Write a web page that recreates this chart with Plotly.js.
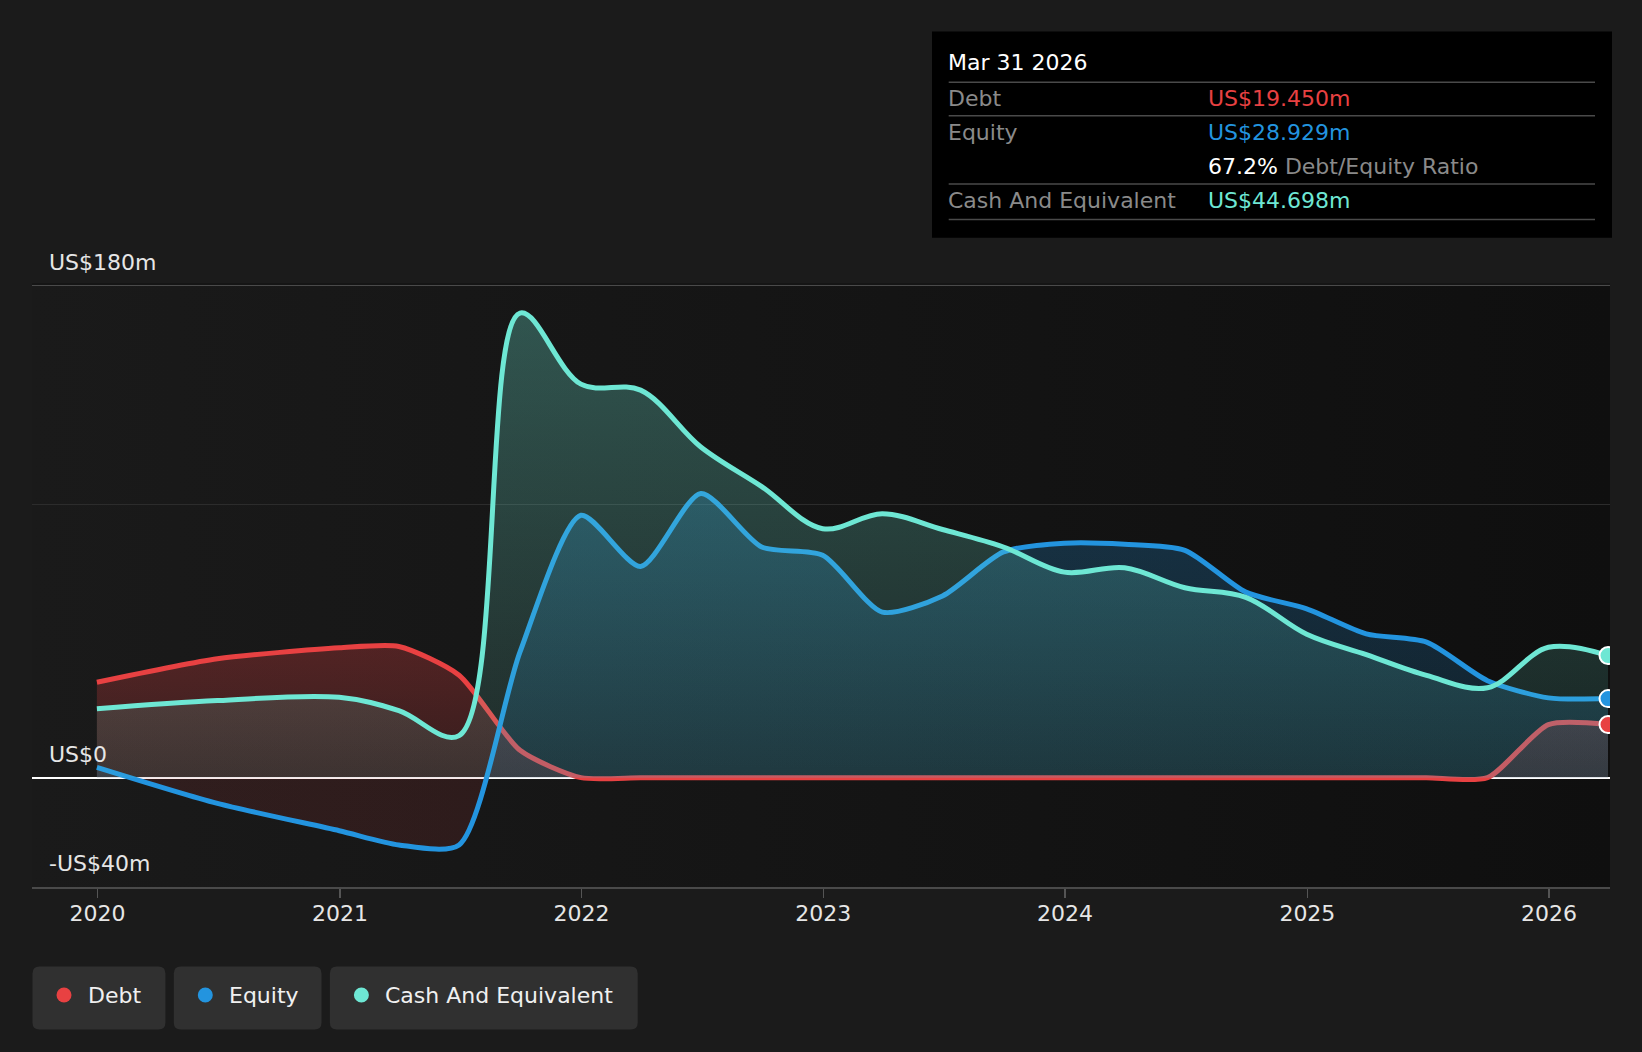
<!DOCTYPE html>
<html>
<head>
<meta charset="utf-8">
<script src="https://cdn.plot.ly/plotly-3.0.1.min.js"></script>
<style>
  html, body { margin: 0; padding: 0; background: #1b1b1b; }
  #chart { width: 1642px; height: 1052px; }
</style>
</head>
<body>
<div id="chart"></div>
<script>
// quarter-end balance sheet values, US$ millions
const dates = [
  '2019-12-31', '2020-06-30', '2020-12-31', '2021-03-31', '2021-06-30', '2021-09-30',
  '2021-12-31', '2022-03-31', '2022-06-30', '2022-09-30', '2022-12-31', '2023-03-31',
  '2023-06-30', '2023-09-30', '2023-12-31', '2024-03-31', '2024-06-30', '2024-09-30',
  '2024-12-31', '2025-03-31', '2025-06-30', '2025-09-30', '2025-12-31', '2026-03-31'
]
const debt = [
  34.9, 43.5, 47.5, 48.0, 37.5, 10.0,
  0, 0, 0, 0, 0, 0,
  0, 0, 0, 0, 0, 0,
  0, 0, 0, 0, 19.4, 19.45
]
const equity = [
  3.8, -9.4, -19.4, -24.6, -24.6, 46.0,
  96.0, 77.3, 104.0, 84.4, 81.4, 60.6,
  66.5, 82.6, 85.8, 85.4, 83.2, 67.9,
  61.8, 52.6, 49.6, 35.5, 29.2, 28.929
]
const cash = [
  25.2, 28.2, 29.4, 24.5, 15.4, 170.0,
  144.0, 141.8, 121.0, 106.5, 91.1, 96.6,
  90.8, 84.4, 75.2, 76.8, 69.5, 66.0,
  52.5, 45.0, 37.4, 32.9, 47.7, 44.698
]

const seriesNames = ['Debt', 'Equity', 'Cash And Equivalent']
const seriesColors = ['#e84142', '#2394df', '#6ee7d4']

const yearTicks = ['2020-01-01', '2021-01-01', '2022-01-01', '2023-01-01', '2024-01-01', '2025-01-01', '2026-01-01']
const yearLabels = ['2020', '2021', '2022', '2023', '2024', '2025', '2026']
const yTickVals = [-40, 0, 180]
const yTickText = ['-US$40m', 'US$0', 'US$180m']
const yMinorGrid = [100]
const tooltipDate = 'Mar 31 2026'

const FONT = 'DejaVu Sans'
const FS = 22
const W = 1642, H = 1052
const M = { l: 32, r: 32, t: 283.3, b: 165 }
const PW = W - M.l - M.r
const PH = H - M.t - M.b

// pixel -> paper helpers for the decorations
const px = (x) => (x - M.l) / PW
const py = (y) => (H - M.b - y) / PH

function roundRect(x0, y0, x1, y1, r) {
  const a = px(x0), b = px(x1), top = py(y0), bot = py(y1)
  const rx = r / PW, ry = r / PH
  return 'M' + (a + rx) + ',' + top +
    ' L' + (b - rx) + ',' + top + ' Q' + b + ',' + top + ' ' + b + ',' + (top - ry) +
    ' L' + b + ',' + (bot + ry) + ' Q' + b + ',' + bot + ' ' + (b - rx) + ',' + bot +
    ' L' + (a + rx) + ',' + bot + ' Q' + a + ',' + bot + ' ' + a + ',' + (bot + ry) +
    ' L' + a + ',' + (top - ry) + ' Q' + a + ',' + top + ' ' + (a + rx) + ',' + top + ' Z'
}

const last = dates.length - 1

function areaTrace(y, color, smoothing, grad) {
  return {
    x: dates, y: y, type: 'scatter', mode: 'lines',
    line: { color: color, width: 5, shape: 'spline', smoothing: smoothing },
    fill: 'tozeroy', fillgradient: grad,
    hoverinfo: 'skip', showlegend: false,
  }
}
function endDot(y, color) {
  return {
    x: [dates[last]], y: [y[last]], type: 'scatter', mode: 'markers',
    marker: { size: 17, color: color, line: { color: '#ffffff', width: 2 } },
    hoverinfo: 'skip', showlegend: false,
  }
}

const data = [
  areaTrace(debt, seriesColors[0], 0.65, {
    type: 'vertical', start: 0, stop: 48,
    colorscale: [[0, 'rgba(232,65,66,0.15)'], [1, 'rgba(232,65,66,0.28)']],
  }),
  areaTrace(equity, seriesColors[1], 0.7, {
    type: 'vertical', start: -40, stop: 105,
    colorscale: [
      [0, 'rgba(232,65,66,0.11)'], [0.275, 'rgba(232,65,66,0.11)'],
      [0.276, 'rgba(35,148,223,0.13)'], [1, 'rgba(35,148,223,0.25)'],
    ],
  }),
  areaTrace(cash, seriesColors[2], 1, {
    type: 'vertical', start: 0, stop: 170,
    colorscale: [[0, 'rgba(110,231,212,0.10)'], [1, 'rgba(110,231,212,0.30)']],
  }),
  endDot(debt, seriesColors[0]),
  endDot(equity, seriesColors[1]),
  endDot(cash, seriesColors[2]),
]

const ann = (x, y, text, color, size) => ({
  xref: 'paper', yref: 'paper', x: px(x), y: py(y), xanchor: 'left', yanchor: 'middle',
  text: text, showarrow: false, font: { family: FONT, size: size || FS, color: color },
})

// y labels sit inside the plot, just above their grid line
const annotations = yTickVals.map((v, i) => ({
  xref: 'paper', yref: 'y', x: px(47), y: v, xanchor: 'left', yanchor: 'bottom', yshift: 9,
  text: yTickText[i], showarrow: false, font: { family: FONT, size: FS, color: '#e6e6e6' },
}))

// tooltip box
const fmt = (v) => 'US$' + v.toFixed(3) + 'm'
const ratio = (debt[last] / equity[last] * 100).toFixed(1) + '%'
const tipX = 946, valX = 1206
const shapes = [
  { type: 'rect', xref: 'paper', yref: 'paper', x0: px(932), x1: px(1612), y0: py(32), y1: py(238),
    fillcolor: '#000000', line: { width: 0 }, layer: 'above' },
]
;[82.7, 116.2, 184.3, 219.9].forEach((yy) => {
  shapes.push({ type: 'line', xref: 'paper', yref: 'paper', x0: px(948.7), x1: px(1595), y0: py(yy), y1: py(yy),
    line: { color: '#4a4a4a', width: 1.5 }, layer: 'above' })
})
annotations.push(
  ann(tipX, 62.5, tooltipDate, '#ffffff'),
  ann(tipX, 98.5, seriesNames[0], '#8a8a8a'),
  ann(valX, 98.5, fmt(debt[last]), seriesColors[0]),
  ann(tipX, 132.5, seriesNames[1], '#8a8a8a'),
  ann(valX, 132.5, fmt(equity[last]), seriesColors[1]),
  ann(valX, 166.5, '<span style="color:#ffffff">' + ratio + '</span> Debt/Equity Ratio', '#8a8a8a'),
  ann(tipX, 200.5, seriesNames[2], '#8a8a8a'),
  ann(valX, 200.5, fmt(cash[last]), seriesColors[2]),
)

// legend buttons
const legendBoxes = [[32.5, 165.4], [173.8, 321.5], [329.9, 637.7]]
legendBoxes.forEach((bx, i) => {
  shapes.push({ type: 'path', xref: 'paper', yref: 'paper', path: roundRect(bx[0], 966.5, bx[1], 1029.4, 7),
    fillcolor: '#303030', line: { width: 0 } })
  const cx = bx[0] + 31.5
  shapes.push({ type: 'circle', xref: 'paper', yref: 'paper', xsizemode: 'pixel', ysizemode: 'pixel',
    xanchor: px(cx), yanchor: py(995), x0: -7.5, x1: 7.5, y0: -7.5, y1: 7.5,
    fillcolor: seriesColors[i], line: { width: 0 } })
  annotations.push(ann(cx + 22, 995, seriesNames[i], '#f0f0f0'))
})

const bgSvg = "<svg xmlns='http://www.w3.org/2000/svg' width='100' height='100' preserveAspectRatio='none'>" +
  "<defs><linearGradient id='g' x1='0' x2='1' y1='0' y2='0'><stop offset='0' stop-color='#1a1a1a'/>" +
  "<stop offset='1' stop-color='#0f0f0f'/></linearGradient></defs><rect width='100' height='100' fill='url(#g)'/></svg>"

const layout = {
  width: W, height: H,
  margin: M,
  paper_bgcolor: '#1b1b1b',
  plot_bgcolor: '#151515',
  showlegend: false,
  font: { family: FONT, color: '#e6e6e6' },
  images: [{
    source: 'data:image/svg+xml;charset=utf-8,' + encodeURIComponent(bgSvg),
    xref: 'x domain', yref: 'y', x: 0, y: 180, sizex: 1, sizey: 220,
    xanchor: 'left', yanchor: 'top', sizing: 'stretch', layer: 'below',
  }],
  xaxis: {
    type: 'date',
    range: ['2019-09-24', '2026-04-03'],
    tickvals: yearTicks, ticktext: yearLabels,
    ticks: 'outside', ticklen: 9, tickwidth: 1.5, tickcolor: '#555555',
    ticklabelstandoff: -3,
    showline: true, linecolor: '#4a4a4a', linewidth: 2,
    showgrid: false, zeroline: false, fixedrange: true,
    tickfont: { family: FONT, size: FS, color: '#e6e6e6' },
  },
  yaxis: {
    range: [-40, 181],
    tickvals: yTickVals, showticklabels: false, ticks: '',
    showgrid: true, gridcolor: '#4a4a4a', gridwidth: 1.5,
    zeroline: true, zerolinecolor: '#ffffff', zerolinewidth: 2,
    minor: { tickvals: yMinorGrid, showgrid: true, gridcolor: '#2c2c2c', gridwidth: 1.5, ticks: '' },
    showline: false, fixedrange: true,
  },
  shapes: shapes,
  annotations: annotations,
}

Plotly.newPlot('chart', data, layout, { displayModeBar: false, staticPlot: true })
</script>
</body>
</html>
